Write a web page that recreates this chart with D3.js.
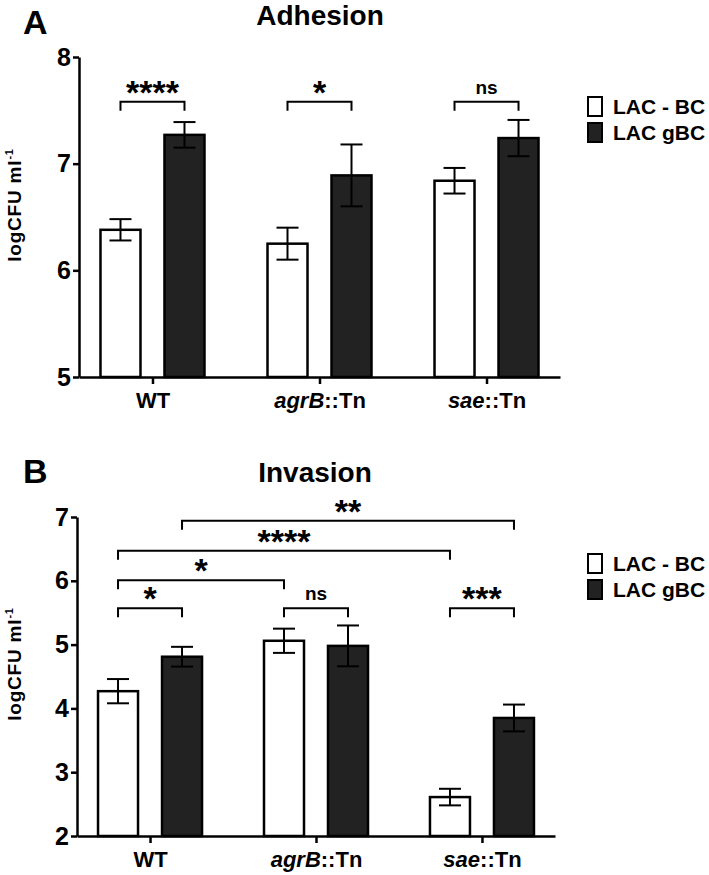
<!DOCTYPE html>
<html>
<head>
<meta charset="utf-8">
<script src="https://cdn.jsdelivr.net/npm/d3@7"></script>
<style>
  body { margin: 0; background: #fff; }
  svg { font-family: "Liberation Sans", Arial, sans-serif; font-weight: bold; }
</style>
</head>
<body>
<div id="chart"></div>
<script>
// Groups on the x axis (italic part + plain part)
var groups = ["WT", "agrB::Tn", "sae::Tn"];
var groupItalic = ["", "agrB", "sae"];
var groupPlain = ["WT", "::Tn", "::Tn"];

// Series
var seriesNames = ["LAC - BC", "LAC gBC"];

// Adhesion: mean and SEM per group, [LAC - BC, LAC gBC]
var adhesionMean = [[6.38, 7.27], [6.25, 6.89], [6.84, 7.24]];
var adhesionSem = [[0.10, 0.12], [0.15, 0.29], [0.12, 0.17]];
var adhesionTicks = [5, 6, 7, 8];
// significance brackets: [group, series] -> [group, series], level, label
var adhesionSig = [
  [[0, 0], [0, 1], 7.58, "****"],
  [[1, 0], [1, 1], 7.58, "*"],
  [[2, 0], [2, 1], 7.58, "ns"]
];

// Invasion
var invasionMean = [[4.27, 4.81], [5.06, 4.98], [2.61, 3.85]];
var invasionSem = [[0.19, 0.155], [0.19, 0.32], [0.13, 0.21]];
var invasionTicks = [2, 3, 4, 5, 6, 7];
var invasionSig = [
  [[0, 0], [0, 1], 5.57, "*"],
  [[1, 0], [1, 1], 5.57, "ns"],
  [[2, 0], [2, 1], 5.57, "***"],
  [[0, 0], [1, 0], 6.01, "*"],
  [[0, 0], [2, 0], 6.47, "****"],
  [[0, 1], [2, 1], 6.94, "**"]
];

var fills = ["#ffffff", "#222222"];

var svg = d3.select("#chart").append("svg")
    .attr("width", 709)
    .attr("height", 875);

function drawPanel(opt) {
    var g = svg.append("g");

    var y = d3.scaleLinear()
        .domain(d3.extent(opt.ticks))
        .range([opt.bottom, opt.top]);

    var x = d3.scalePoint()
        .domain(groups)
        .range([opt.left, opt.right])
        .padding(0.44);

    // sub-scale for the two bars around each group center
    var xs = d3.scaleBand()
        .domain([0, 1])
        .range([-52, 52])
        .paddingInner(0.375);

    // panel letter + title
    g.append("text")
        .attr("x", 23).attr("y", opt.letterY)
        .attr("font-size", 34)
        .text(opt.letter);
    g.append("text")
        .attr("x", opt.titleX).attr("y", opt.titleY)
        .attr("text-anchor", "middle")
        .attr("font-size", 28)
        .text(opt.title);

    // y label
    var yl = g.append("text")
        .attr("transform", "translate(21," + opt.labelY + ") rotate(-90)")
        .attr("text-anchor", "middle")
        .attr("font-size", 19)
        .attr("letter-spacing", 0.8);
    yl.append("tspan").text("logCFU ml");
    yl.append("tspan").attr("font-size", 11).attr("dy", -8).text("-1");

    // bars
    var rows = [];
    opt.mean.forEach(function(m, gi) {
        m.forEach(function(v, si) {
            rows.push({ g: gi, s: si, v: v, e: opt.sem[gi][si] });
        });
    });

    var bar = g.append("g").selectAll("g").data(rows)
        .enter().append("g")
        .attr("transform", function(d) { return "translate(" + x(groups[d.g]) + ",0)"; });

    bar.append("rect")
        .attr("x", function(d) { return xs(d.s); })
        .attr("width", xs.bandwidth())
        .attr("y", function(d) { return y(d.v); })
        .attr("height", function(d) { return y.range()[0] - y(d.v); })
        .attr("fill", function(d) { return fills[d.s]; })
        .attr("stroke", "#000")
        .attr("stroke-width", 2.5);

    // error bars
    var cx = function(d) { return xs(d.s) + xs.bandwidth() / 2; };
    bar.append("line")
        .attr("x1", cx).attr("x2", cx)
        .attr("y1", function(d) { return y(d.v - d.e); })
        .attr("y2", function(d) { return y(d.v + d.e); })
        .attr("stroke", "#000")
        .attr("stroke-width", 2);
    [-1, 1].forEach(function(sign) {
        bar.append("line")
            .attr("x1", function(d) { return cx(d) - 11; })
            .attr("x2", function(d) { return cx(d) + 11; })
            .attr("y1", function(d) { return y(d.v + sign * d.e); })
            .attr("y2", function(d) { return y(d.v + sign * d.e); })
            .attr("stroke", "#000")
            .attr("stroke-width", 2);
    });

    // axes
    var yAxis = g.append("g")
        .attr("transform", "translate(" + opt.left + ",0)")
        .call(d3.axisLeft(y).tickValues(opt.ticks).tickSize(6).tickSizeOuter(0).tickPadding(2).tickFormat(d3.format("d")));
    yAxis.selectAll("text").attr("font-size", 25).attr("fill", "#000");

    var xAxis = g.append("g")
        .attr("transform", "translate(0," + opt.bottom + ")")
        .call(d3.axisBottom(x).tickSize(7).tickSizeOuter(0).tickPadding(8).tickFormat(""));

    [yAxis, xAxis].forEach(function(a) {
        a.attr("font-family", null);
        a.selectAll("path, line").attr("stroke", "#000").attr("stroke-width", 2.5);
    });

    xAxis.selectAll(".tick text").each(function(d, i) {
        var t = d3.select(this).attr("font-size", 22).attr("fill", "#000").attr("dy", "0.71em");
        if (groupItalic[i]) t.append("tspan").attr("font-style", "italic").text(groupItalic[i]);
        t.append("tspan").text(groupPlain[i]);
    });

    // significance brackets
    var bx = function(p) { return x(groups[p[0]]) + xs(p[1]) + xs.bandwidth() / 2; };
    opt.sig.forEach(function(s) {
        var x1 = bx(s[0]), x2 = bx(s[1]), yy = y(s[2]);
        g.append("path")
            .attr("d", "M" + x1 + "," + (yy + 9) + "V" + yy + "H" + x2 + "V" + (yy + 9))
            .attr("fill", "none")
            .attr("stroke", "#000")
            .attr("stroke-width", 2);
        var isStar = s[3] != "ns";
        g.append("text")
            .attr("x", (x1 + x2) / 2)
            .attr("y", isStar ? yy + 2 : yy - 8)
            .attr("text-anchor", "middle")
            .attr("font-size", isStar ? 34 : 19)
            .text(s[3]);
    });

    // legend
    var leg = g.append("g").selectAll("g").data(seriesNames)
        .enter().append("g")
        .attr("transform", function(d, i) { return "translate(587," + (opt.legendY + i * 26) + ")"; });
    leg.append("rect")
        .attr("x", 1).attr("y", 1)
        .attr("width", 14).attr("height", 19)
        .attr("fill", function(d, i) { return fills[i]; })
        .attr("stroke", "#000")
        .attr("stroke-width", 2);
    leg.append("text")
        .attr("x", 26).attr("y", 18)
        .attr("font-size", 21)
        .text(function(d) { return d; });
}

drawPanel({
    letter: "A", letterY: 34, title: "Adhesion", titleX: 320, titleY: 25,
    top: 57, bottom: 377, left: 79, right: 560, labelY: 205,
    ticks: adhesionTicks, mean: adhesionMean, sem: adhesionSem, sig: adhesionSig,
    legendY: 96
});

drawPanel({
    letter: "B", letterY: 483, title: "Invasion", titleX: 315, titleY: 482,
    top: 517, bottom: 836, left: 77, right: 555, labelY: 664,
    ticks: invasionTicks, mean: invasionMean, sem: invasionSem, sig: invasionSig,
    legendY: 553
});
</script>
</body>
</html>
